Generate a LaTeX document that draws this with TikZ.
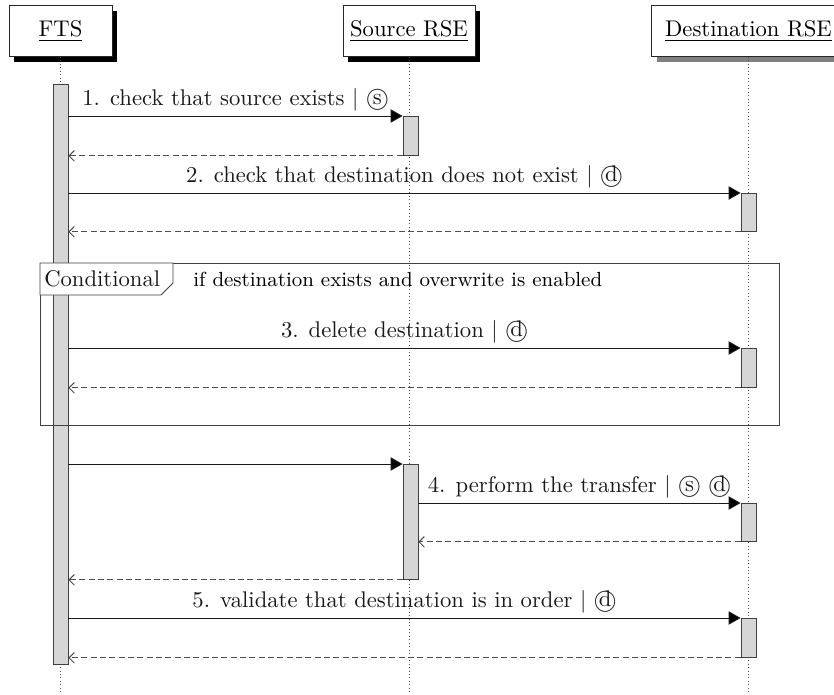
\documentclass[tikz,border=0pt]{standalone}
\usepackage{graphicx}
\usetikzlibrary{arrows.meta,shadows}
\newcommand\bigtxt[1]{\scalebox{1.7}{#1}}
\begin{document}
\begin{tikzpicture}[x=0.75pt,y=-0.75pt,
  lbl/.style={font=\fontsize{10}{12}\selectfont, inner sep=3.5pt, text=black!90},
  head/.style={draw=black!85, fill=white, line width=0.6pt, minimum height=38.25pt, inner sep=0pt,
    font=\fontsize{10}{12}\selectfont},
  bshadow/.style={drop shadow={shadow xshift=3.75pt, shadow yshift=-3.75pt, fill=black, opacity=1}},
  gshadow/.style={drop shadow={shadow xshift=3.75pt, shadow yshift=-3.75pt, fill=black!50, opacity=1}},
  lifeline/.style={dotted, draw=black!70, line width=0.6pt},
  actbar/.style={draw=black!75, fill=black!16, line width=0.6pt, minimum width=11.25pt, inner sep=0pt, anchor=north},
  call/.style={draw=black!90, line width=0.7pt, -{Triangle[length=9pt,width=10pt,fill=black]}},
  ret/.style={draw=black!70, line width=0.7pt, dash pattern=on 4.5pt off 2.5pt, -{Straight Barb[length=4pt,width=8pt]}},
  framebox/.style={draw=black!75, line width=0.6pt}]
\useasboundingbox (0,0) rectangle (834,694);
% heads
\node[head, bshadow, minimum width=77.25pt] (fts) at (60.5,31) {\bigtxt{\underline{FTS}}};
\node[head, bshadow, minimum width=99pt] (src) at (409,31) {\bigtxt{\underline{Source RSE}}};
\node[head, gshadow, minimum width=145.5pt] (dst) at (748.5,31) {\bigtxt{\underline{Destination RSE}}};
\coordinate (ftsend) at (60.5,694);
\coordinate (srcend) at (409,694);
\coordinate (dstend) at (748.5,694);
\draw[lifeline] (fts.south) -- (ftsend);
\draw[lifeline] (src.south) -- (srcend);
\draw[lifeline] (dst.south) -- (dstend);
% activation bars
\node[actbar, minimum height=435pt] (fb) at (60.5,84) {};
\node[actbar, minimum height=29.25pt] (s1) at (410.5,116) {};
\node[actbar, minimum height=28.5pt] (d1) at (748.5,193) {};
\node[actbar, minimum height=29.25pt] (d2) at (748.5,348) {};
\node[actbar, minimum height=86.25pt] (s2) at (410.5,464) {};
\node[actbar, minimum height=28.5pt] (d3) at (748.5,503) {};
\node[actbar, minimum height=29.25pt] (d4) at (748.5,618) {};
% messages
\draw[call] (fb.east |- s1.north) -- (s1.north west)
  node[midway, above, lbl] {\bigtxt{1. check that source exists $|$ \textcircled{s}}};
\draw[ret] (s1.south west) -- (fb.east |- s1.south);
\draw[call] (fb.east |- d1.north) -- (d1.north west)
  node[midway, above, lbl] {\bigtxt{2. check that destination does not exist $|$ \textcircled{d}}};
\draw[ret] (d1.south west) -- (fb.east |- d1.south);
% frame
\draw[framebox] (40,263) rectangle (779,425);
\draw[framebox, fill=white] (40,263) -- (173,263) -- (173,283) -- (161,295) -- (40,295) -- cycle;
\node[lbl, anchor=west, inner sep=0pt] (condtag) at (44,279) {\bigtxt{Conditional}};
\node[font=\fontsize{9}{11}\selectfont, anchor=west, inner sep=0pt] (condtext) at (193,279) {\bigtxt{if destination exists and overwrite is enabled}};
\draw[call] (fb.east |- d2.north) -- (d2.north west)
  node[midway, above, lbl] {\bigtxt{3. delete destination $|$ \textcircled{d}}};
\draw[ret] (d2.south west) -- (fb.east |- d2.south);
% transfer
\draw[call] (fb.east |- s2.north) -- (s2.north west);
\draw[call] (s2.east |- d3.north) -- (d3.north west)
  node[midway, above, lbl] {\bigtxt{4. perform the transfer $|$ \textcircled{s} \textcircled{d}}};
\draw[ret] (d3.south west) -- (s2.east |- d3.south);
\draw[ret] (s2.south west) -- (fb.east |- s2.south);
\draw[call] (fb.east |- d4.north) -- (d4.north west)
  node[midway, above, lbl] {\bigtxt{5. validate that destination is in order $|$ \textcircled{d}}};
\draw[ret] (d4.south west) -- (fb.east |- d4.south);
\end{tikzpicture}
\end{document}
